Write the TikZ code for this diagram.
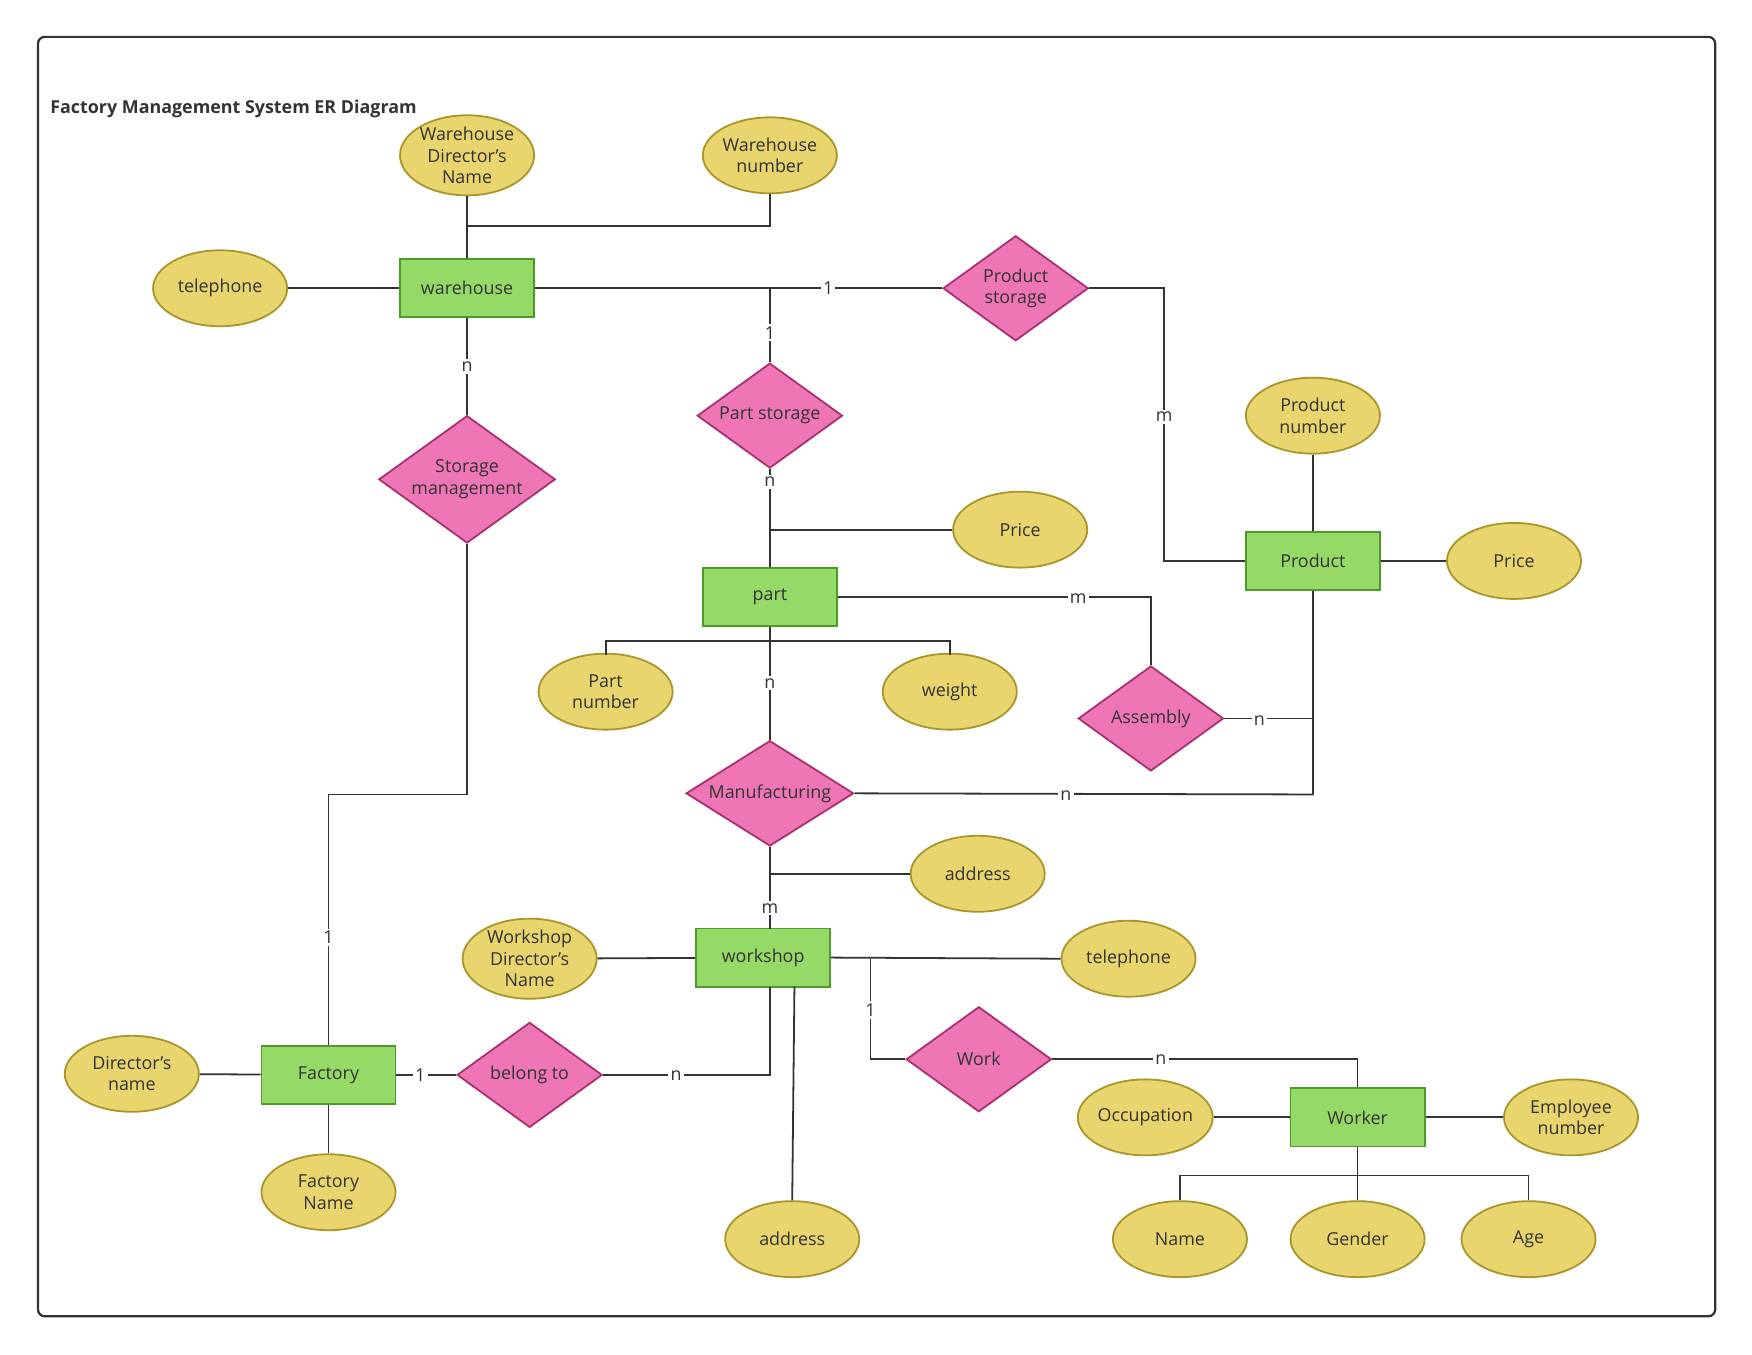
\documentclass[tikz,border=0pt]{standalone}
\usepackage{fontspec}
\setmainfont{Open Sans}
\usetikzlibrary{shapes.geometric}
\definecolor{ef}{HTML}{E8D56E}\definecolor{ed}{HTML}{A8962A}
\definecolor{rf}{HTML}{95D967}\definecolor{rd}{HTML}{4E9A2A}
\definecolor{df}{HTML}{EE76B4}\definecolor{dd}{HTML}{A8306E}
\definecolor{ln}{HTML}{333333}
\begin{document}
\begin{tikzpicture}[x=0.5pt,y=-0.5pt,
 every node/.style={font=\fontsize{8}{9.6}\selectfont,text=ln,align=center},
 attr/.style={ellipse,draw=ed,fill=ef,line width=0.8pt,minimum width=60pt,minimum height=34pt,inner sep=0pt},
 ent/.style={rectangle,draw=rd,fill=rf,line width=0.8pt,minimum width=60pt,minimum height=26pt,inner sep=0pt},
 rel/.style={diamond,draw=dd,fill=df,line width=0.8pt,minimum width=65pt,minimum height=47pt,inner sep=0pt,aspect=1.4},
 lbl/.style={fill=white,inner sep=1pt},
 e/.style={draw=ln,line width=0.8pt}]
\useasboundingbox (0,0) rectangle (1568,1212);
\draw[ln,line width=1pt,rounded corners=3pt] (34,33) rectangle (1535,1178);
\node[anchor=west,font=\fontsize{8}{9.6}\selectfont\bfseries] (title) at (38,97) {Factory Management System ER Diagram};
% attributes
\node[attr] (wdn) at (418,139) {Warehouse\\Director's\\Name};
\node[attr] (wnum) at (689,139) {Warehouse\\number};
\node[attr] (tel1) at (197,258) {telephone};
\node[attr] (pnum) at (1175,372) {Product\\number};
\node[attr] (price1) at (913,474) {Price};
\node[attr] (price2) at (1355,502) {Price};
\node[attr] (partnum) at (542,619) {Part\\number};
\node[attr] (weight) at (850,619) {weight};
\node[attr] (addr1) at (875,782) {address};
\node[attr] (wdir) at (474,858) {Workshop\\Director's\\Name};
\node[attr] (tel2) at (1010,858) {telephone};
\node[attr] (dname) at (118,961) {Director's\\name};
\node[attr] (fname) at (294,1067) {Factory\\Name};
\node[attr] (addr2) at (709,1109) {address};
\node[attr] (occ) at (1025,1000) {Occupation};
\node[attr] (empnum) at (1406,1000) {Employee\\number};
\node[attr] (name) at (1056,1109) {Name};
\node[attr] (gender) at (1215,1109) {Gender};
\node[attr] (age) at (1368,1109) {Age};
% entities
\node[ent] (warehouse) at (418,258) {warehouse};
\node[ent] (product) at (1175,502) {Product};
\node[ent] (part) at (689,534) {part};
\node[ent] (workshop) at (683,857) {workshop};
\node[ent] (factory) at (294,962) {Factory};
\node[ent] (worker) at (1215,1000) {Worker};
% relationships
\node[rel] (pstorage) at (909,258) {Product\\storage};
\node[rel] (partstorage) at (689,372) {Part storage};
\node[rel,minimum width=79pt,minimum height=57pt] (smgmt) at (418,429) {Storage\\management};
\node[rel] (assembly) at (1030,643) {Assembly};
\node[rel,minimum width=75pt] (manu) at (689,710) {Manufacturing};
\node[rel] (belong) at (474,962) {belong to};
\node[rel] (work) at (876,948) {Work};
% edges
\draw[e] (wdn) -- (warehouse);
\draw[e] (wnum.south) -- (689,202) -- (418,202);
\draw[e] (tel1) -- (warehouse);
\draw[e] (warehouse.east) -- (pstorage.west) node[lbl,pos=0.72]{1};
\draw[e] (689,258) -- (partstorage.north) node[lbl,pos=0.6]{1};
\draw[e] (pstorage.east) -- (1042,258) -- (1042,502) -- (product.west);
\node[lbl] (lm1) at (1042,373) {m};
\draw[e] (pnum) -- (product);
\draw[e] (product) -- (price2);
\draw[e] (partstorage.south) -- (part.north) node[lbl,pos=0.13]{n};
\draw[e] (689,474) -- (price1.west);
\draw[e] (part.east) -- (1030,534) -- (assembly.north);
\node[lbl] (lm2) at (965,536) {m};
\draw[e] (542,586) -- (542,574) -- (850,574) -- (850,586);
\draw[e] (part.south) -- (manu.north) node[lbl,pos=0.5]{n};
\draw[e] (assembly.east) -- (1175,643);
\node[lbl] (ln1) at (1127,645) {n};
\draw[e] (product.south) -- (1175,711) -- (manu.east);
\node[lbl] (ln2) at (954,712) {n};
\draw[e] (warehouse.south) -- (smgmt.north) node[lbl,pos=0.5]{n};
\draw[e] (smgmt.south) -- (418,711) -- (294,711) -- (factory.north);
\node[lbl] (l1a) at (294,839) {1};
\draw[e] (manu.south) -- (689,831) node[lbl,pos=0.75]{m};
\draw[e] (689,782) -- (addr1.west);
\draw[e] (wdir) -- (workshop);
\draw[e] (workshop.east) -- (tel2.west);
\draw[e] (779,858) -- (779,948) -- (work.west);
\node[lbl] (l1b) at (779,904) {1};
\draw[e] (work.east) -- (1215,948) -- (worker.north);
\node[lbl] (ln3) at (1039,948) {n};
\draw[e] (689,883) -- (689,962) -- (belong.east);
\node[lbl] (ln4) at (605,963) {n};
\draw[e] (factory.east) -- (belong.west) node[lbl,pos=0.4]{1};
\draw[e] (711,883) -- (addr2.north);
\draw[e] (dname) -- (factory);
\draw[e] (factory) -- (fname);
\draw[e] (occ) -- (worker);
\draw[e] (worker) -- (empnum);
\draw[e] (worker.south) -- (1215,1052);
\draw[e] (name.north) -- (1056,1052) -- (1368,1052) -- (age.north);
\draw[e] (1215,1052) -- (gender.north);
\end{tikzpicture}
\end{document}
